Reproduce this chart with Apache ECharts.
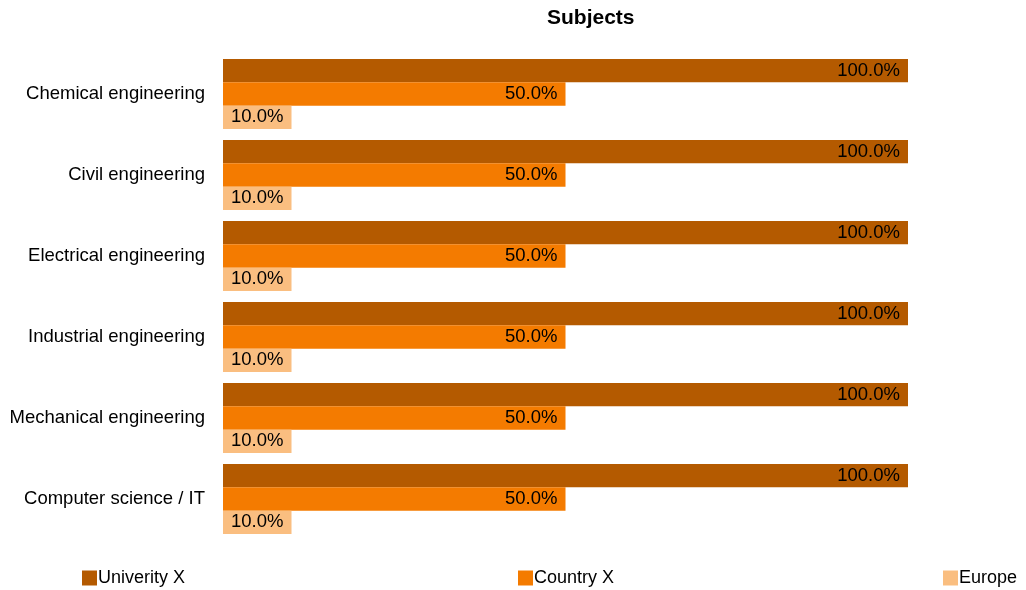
<!DOCTYPE html>
<html>
<head>
<meta charset="utf-8">
<script src="https://cdn.jsdelivr.net/npm/echarts@6/dist/echarts.min.js"></script>
<style>
  html, body { margin: 0; padding: 0; background: #fff; }
  #chart1 { width: 1026px; height: 590px; }
</style>
</head>
<body>
<div id="chart1"></div>
<script>
const categories = ['Chemical engineering', 'Civil engineering', 'Electrical engineering',
    'Industrial engineering', 'Mechanical engineering', 'Computer science / IT'];
const universityX = [100, 100, 100, 100, 100, 100];
const countryX = [50, 50, 50, 50, 50, 50];
const europe = [10, 10, 10, 10, 10, 10];

const chart = echarts.init(document.getElementById('chart1'));
const font = 'Liberation Sans';

const barLabel = {
    show: true,
    position: 'insideRight',
    distance: 8,
    color: '#000',
    fontFamily: font,
    fontSize: 18.5,
    formatter: p => p.value.toFixed(1) + '%'
};

function legendAt(left, name) {
    return {
        data: [name],
        left: left,
        top: 569,
        padding: 0,
        itemWidth: 15,
        itemHeight: 15,
        itemGap: 0,
        icon: 'rect',
        textStyle: { fontFamily: font, fontSize: 18, color: '#000', padding: [0, 0, 0, -4] }
    };
}

const option = {
    animation: false,
    title: {
        text: 'Subjects',
        left: 542,
        top: 3,
        textStyle: { fontFamily: font, fontSize: 21, fontWeight: 'bold', color: '#000' }
    },
    legend: [
        legendAt(82, 'Univerity X'),
        legendAt(518, 'Country X'),
        legendAt(943, 'Europe')
    ],
    grid: { left: 223, right: 118, top: 53.5, bottom: 50.5, containLabel: false },
    xAxis: {
        type: 'value',
        min: 0,
        max: 100,
        show: false
    },
    yAxis: {
        type: 'category',
        data: categories,
        inverse: true,
        axisLine: { show: false },
        axisTick: { show: false },
        axisLabel: { margin: 18, color: '#000', fontFamily: font, fontSize: 18.5 }
    },
    series: [
        { name: 'Univerity X', type: 'bar', data: universityX, barGap: '0%', barCategoryGap: '13.6%',
          itemStyle: { color: '#B45A00' }, label: barLabel },
        { name: 'Country X', type: 'bar', data: countryX,
          itemStyle: { color: '#F47B00' }, label: barLabel },
        { name: 'Europe', type: 'bar', data: europe,
          itemStyle: { color: '#FABE80' }, label: barLabel }
    ]
};

chart.setOption(option);
window.addEventListener('resize', function () { chart.resize(); });
</script>
</body>
</html>
